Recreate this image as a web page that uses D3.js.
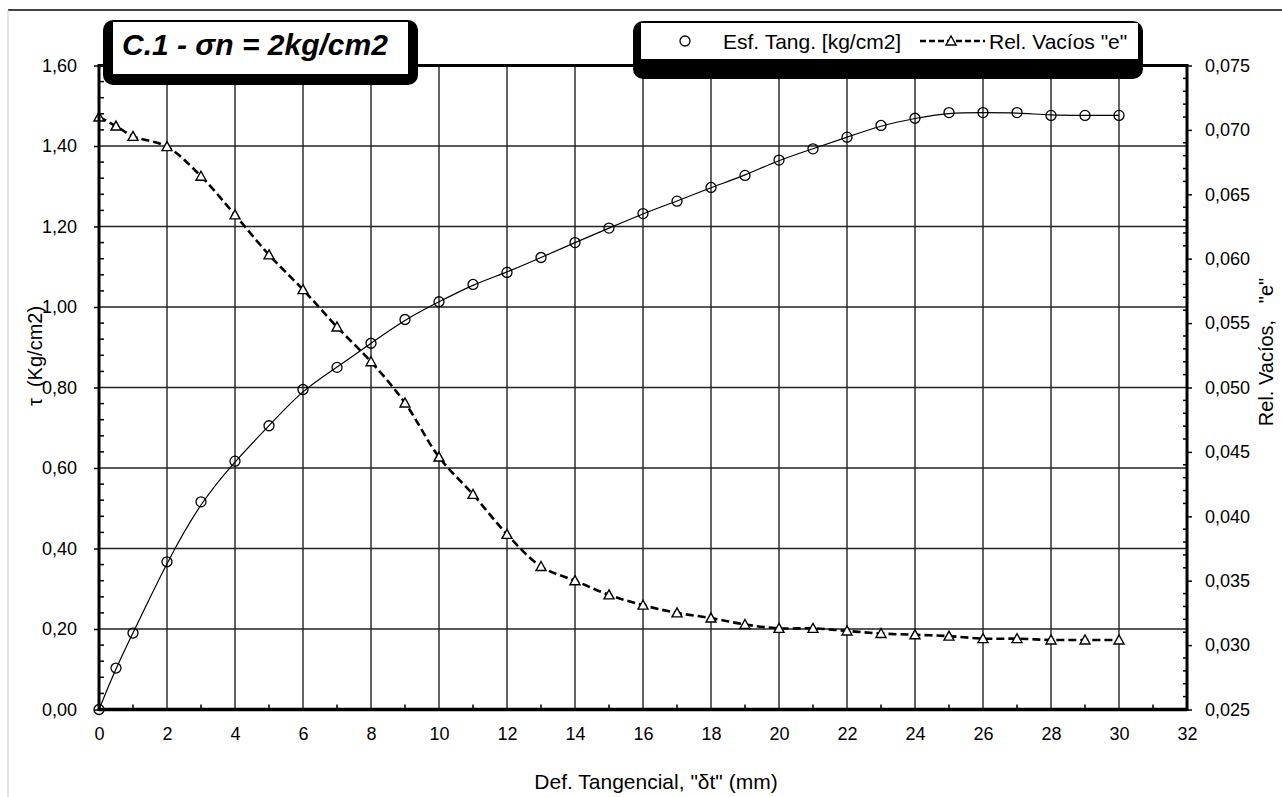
<!DOCTYPE html>
<html>
<head>
<meta charset="utf-8">
<script src="https://cdn.jsdelivr.net/npm/d3@7"></script>
<style>
  html, body { margin: 0; padding: 0; background: #fff; }
  svg { display: block; font-family: "Liberation Sans", Arial, sans-serif; }
</style>
</head>
<body>
<script>
// ---- data ----
const defTang = [0, 0.5, 1, 2, 3, 4, 5, 6, 7, 8, 9, 10, 11, 12, 13, 14, 15, 16, 17, 18, 19, 20, 21, 22, 23, 24, 25, 26, 27, 28, 29, 30];
const esfTang = [0, 0.103, 0.19, 0.367, 0.516, 0.617, 0.705, 0.795, 0.85, 0.91, 0.969, 1.013, 1.056, 1.086, 1.123, 1.160, 1.196, 1.232, 1.263, 1.297, 1.327, 1.365, 1.393, 1.422, 1.451, 1.469, 1.483, 1.483, 1.483, 1.476, 1.476, 1.476];
const relVacios = [0.0710, 0.0703, 0.0695, 0.0687, 0.0664, 0.0634, 0.0603, 0.0576, 0.0547, 0.0520, 0.0488, 0.0446, 0.0417, 0.0386, 0.0361, 0.0350, 0.0339, 0.0331, 0.0325, 0.0321, 0.0316, 0.0313, 0.0313, 0.0311, 0.0309, 0.0308, 0.0307, 0.0305, 0.0305, 0.0304, 0.0304, 0.0304];
const xTicks = [0, 2, 4, 6, 8, 10, 12, 14, 16, 18, 20, 22, 24, 26, 28, 30, 32];
const xMinor = [1, 3, 5, 7, 9, 11, 13, 15, 17, 19, 21, 23, 25, 27, 29, 31];
const yLeftTicks = [0, 0.2, 0.4, 0.6, 0.8, 1.0, 1.2, 1.4, 1.6];
const yRightTicks = [0.025, 0.030, 0.035, 0.040, 0.045, 0.050, 0.055, 0.060, 0.065, 0.070, 0.075];
const titleText = "C.1 - σn = 2kg/cm2";
const legendLabels = ["Esf. Tang. [kg/cm2]", "Rel. Vacíos \"e\""];
const xTitle = "Def. Tangencial, \"δt\" (mm)";
const yLeftTitle = "τ  (Kg/cm2)";
const yRightTitle = "Rel. Vacíos,   \"e\"";

const W = 1282, H = 797;
const L = 99, R = 1187, T = 65.5, B = 709.5;

const svg = d3.select("body").append("svg").attr("width", W).attr("height", H);

const x = d3.scaleLinear().domain([0, 32]).range([L, R]);
const yL = d3.scaleLinear().domain([0, 1.6]).range([B, T]);
const yR = d3.scaleLinear().domain([0.025, 0.075]).range([B, T]);

// outer frame
svg.append("line").attr("x1", 8).attr("x2", W).attr("y1", 10).attr("y2", 10).attr("stroke", "#444").attr("stroke-width", 2);
svg.append("line").attr("x1", 8).attr("x2", 8).attr("y1", 10).attr("y2", H).attr("stroke", "#ccc").attr("stroke-width", 1);

// gridlines
const grid = svg.append("g").attr("stroke", "#222").attr("stroke-width", 1.4);
grid.selectAll(".vg").data(xTicks.filter(d => d > 0 && d < 32)).join("line")
  .attr("x1", d => x(d)).attr("x2", d => x(d)).attr("y1", T).attr("y2", B);
grid.selectAll(".hg").data(yLeftTicks.filter(d => d > 0 && d < 1.6)).join("line")
  .attr("x1", L).attr("x2", R).attr("y1", d => yL(d)).attr("y2", d => yL(d));

// series
const ptsTau = defTang.map((d, i) => [d, esfTang[i]]);
const ptsE = defTang.map((d, i) => [d, relVacios[i]]);

svg.append("path").datum(ptsTau)
  .attr("fill", "none").attr("stroke", "#000").attr("stroke-width", 1.2)
  .attr("d", d3.line().x(d => x(d[0])).y(d => yL(d[1])).curve(d3.curveBasis));

svg.append("path").datum(ptsE)
  .attr("fill", "none").attr("stroke", "#000").attr("stroke-width", 2.6).attr("stroke-dasharray", "8,4")
  .attr("d", d3.line().x(d => x(d[0])).y(d => yR(d[1])).curve(d3.curveCatmullRom));

svg.append("g").selectAll("circle").data(ptsTau).join("circle")
  .attr("cx", d => x(d[0])).attr("cy", d => yL(d[1])).attr("r", 5)
  .attr("fill", "none").attr("stroke", "#000").attr("stroke-width", 1.3);

const tri = "M0,-5L5,4L-5,4Z";
svg.append("g").selectAll("path").data(ptsE).join("path")
  .attr("transform", d => `translate(${x(d[0])},${yR(d[1])})`)
  .attr("d", tri).attr("fill", "#fff").attr("stroke", "#000").attr("stroke-width", 1.4);

// axes
const fmt2 = d => d.toFixed(2).replace(".", ",");
const fmt3 = d => d.toFixed(3).replace(".", ",");

const axL = svg.append("g").attr("transform", `translate(${L},0)`)
  .call(d3.axisLeft(yL).tickValues(yLeftTicks).tickFormat(fmt2).tickSize(5).tickPadding(17));
const axR = svg.append("g").attr("transform", `translate(${R},0)`)
  .call(d3.axisRight(yR).tickValues(yRightTicks).tickFormat(fmt3).tickSize(5).tickPadding(13));
const axB = svg.append("g").attr("transform", `translate(0,${B})`)
  .call(d3.axisBottom(x).tickValues(xTicks).tickFormat(d => d).tickSize(0).tickPadding(17.5));
[axL, axR, axB].forEach(a => {
  a.select(".domain").remove();
  a.selectAll("line").attr("stroke", "#000").attr("stroke-width", 1.5);
  a.selectAll("text").attr("font-size", 18).attr("fill", "#000").attr("font-family", "Liberation Sans, Arial, sans-serif");
});

// minor ticks
const minorLeft = d3.range(0, 41).map(i => i * 0.04).filter((d, i) => i % 5 !== 0);
svg.append("g").selectAll("line").data(minorLeft).join("line")
  .attr("x1", L).attr("x2", L + 5).attr("y1", d => yL(d)).attr("y2", d => yL(d))
  .attr("stroke", "#000").attr("stroke-width", 1.5);
const minorRight = d3.range(0, 51).map(i => 0.025 + i * 0.001).filter((d, i) => i % 5 !== 0);
svg.append("g").selectAll("line").data(minorRight).join("line")
  .attr("x1", R - 4).attr("x2", R).attr("y1", d => yR(d)).attr("y2", d => yR(d))
  .attr("stroke", "#000").attr("stroke-width", 1.5);
svg.append("g").selectAll("line").data(xMinor).join("line")
  .attr("x1", d => x(d)).attr("x2", d => x(d)).attr("y1", B - 5).attr("y2", B)
  .attr("stroke", "#000").attr("stroke-width", 1.5);

// frame lines
svg.append("line").attr("x1", L).attr("x2", R).attr("y1", T).attr("y2", T).attr("stroke", "#000").attr("stroke-width", 3);
svg.append("line").attr("x1", L).attr("x2", L).attr("y1", T - 1.5).attr("y2", B + 1.5).attr("stroke", "#000").attr("stroke-width", 3);
svg.append("line").attr("x1", R).attr("x2", R).attr("y1", T - 1.5).attr("y2", B + 1.5).attr("stroke", "#000").attr("stroke-width", 3);
svg.append("line").attr("x1", L).attr("x2", R).attr("y1", B).attr("y2", B).attr("stroke", "#000").attr("stroke-width", 3.5);

// axis titles
svg.append("text").attr("x", 656).attr("y", 789).attr("text-anchor", "middle")
  .attr("font-size", 21).text(xTitle);
svg.append("text").attr("transform", "translate(42,356) rotate(-90)").attr("text-anchor", "middle")
  .attr("font-size", 20).attr("xml:space", "preserve").style("white-space", "pre").text(yLeftTitle);
svg.append("text").attr("transform", "translate(1273,352) rotate(-90)").attr("text-anchor", "middle")
  .attr("font-size", 20).style("white-space", "pre").text(yRightTitle);

// title box
svg.append("rect").attr("x", 103).attr("y", 20).attr("width", 315).attr("height", 65).attr("rx", 10).attr("fill", "#000");
svg.append("rect").attr("x", 113).attr("y", 22).attr("width", 295).attr("height", 52).attr("fill", "#fff");
svg.append("text").attr("x", 122).attr("y", 55).attr("font-size", 30).attr("font-weight", "bold")
  .attr("font-style", "italic").text(titleText);

// legend
svg.append("rect").attr("x", 633).attr("y", 21).attr("width", 510).attr("height", 58).attr("rx", 10).attr("fill", "#000");
svg.append("rect").attr("x", 641).attr("y", 23).attr("width", 497).attr("height", 36).attr("fill", "#fff");
svg.append("circle").attr("cx", 685).attr("cy", 41).attr("r", 5).attr("fill", "none").attr("stroke", "#000").attr("stroke-width", 1.3);
svg.append("text").attr("x", 723).attr("y", 48.5).attr("font-size", 21).text(legendLabels[0]);
svg.append("line").attr("x1", 920).attr("x2", 985).attr("y1", 41).attr("y2", 41)
  .attr("stroke", "#000").attr("stroke-width", 2.6).attr("stroke-dasharray", "6,3");
svg.append("path").attr("transform", "translate(951,41)").attr("d", tri).attr("fill", "#fff").attr("stroke", "#000").attr("stroke-width", 1.4);
svg.append("text").attr("x", 989).attr("y", 48.5).attr("font-size", 21).text(legendLabels[1]);
</script>
</body>
</html>
